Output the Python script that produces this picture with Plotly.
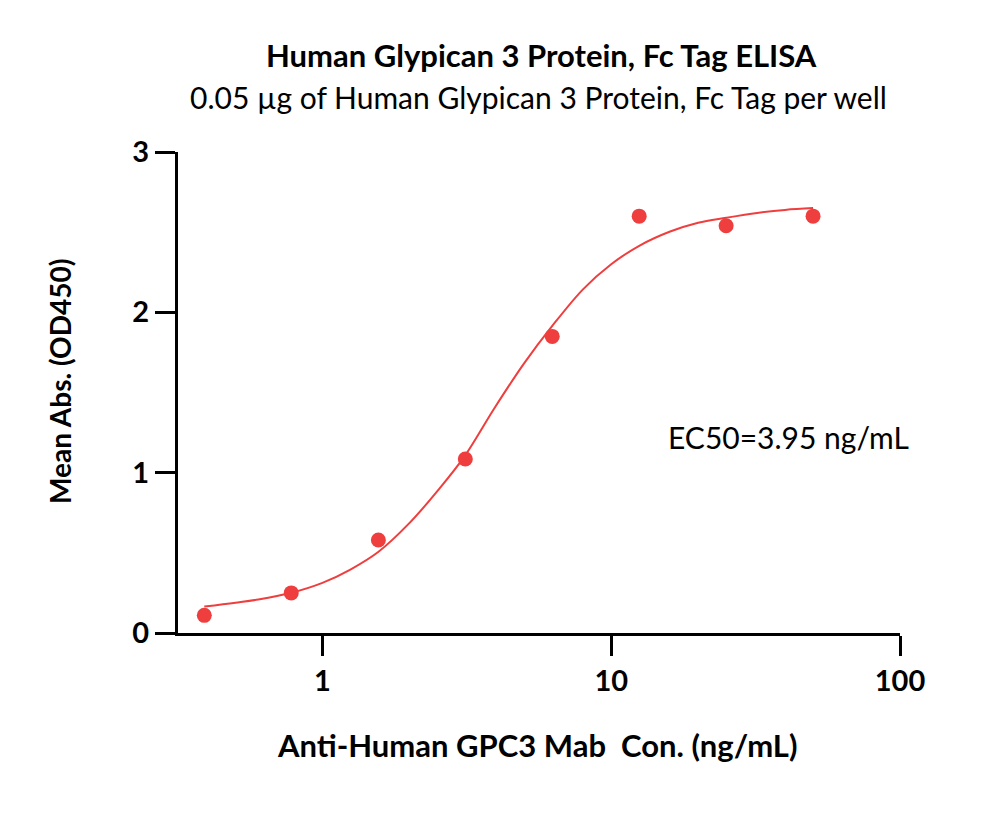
import plotly.graph_objects as go

# Measured data points
conc = [0.39, 0.78, 1.5625, 3.125, 6.25, 12.5, 25, 50]
od450 = [0.11, 0.25, 0.58, 1.085, 1.85, 2.60, 2.54, 2.60]

# Fitted curve
curve_x = [0.39, 0.5, 0.6, 0.78, 1.0, 1.25, 1.56, 2.0, 2.5, 3.1, 3.95, 5.0,
           6.25, 8.0, 10, 12.5, 16, 20, 25, 32, 40, 50]
curve_y = [0.165, 0.189, 0.209, 0.251, 0.313, 0.396, 0.505, 0.685, 0.885, 1.10,
           1.405, 1.683, 1.915, 2.145, 2.30, 2.415, 2.504, 2.559, 2.59, 2.62,
           2.639, 2.65]

x_ticks = [1, 10, 100]
x_tick_text = ["1", "10", "100"]
y_ticks = [0, 1, 2, 3]

RED = "#EF3E3E"
FONT = "Lato"

fig = go.Figure()
fig.add_trace(go.Scatter(x=curve_x, y=curve_y, mode="lines",
                         line=dict(color=RED, width=2, shape="spline"),
                         hoverinfo="skip", showlegend=False))
fig.add_trace(go.Scatter(x=conc, y=od450, mode="markers",
                         marker=dict(color=RED, size=15, line=dict(width=0)),
                         showlegend=False))

axis_common = dict(showline=True, linecolor="black", linewidth=3,
                   ticks="outside", ticklen=20, tickwidth=3, tickcolor="black",
                   showgrid=False, zeroline=False,
                   tickfont=dict(family=FONT, size=29, color="black", weight="bold"))

fig.update_xaxes(type="log", range=[-0.5, 2.0], tickvals=x_ticks,
                 ticktext=x_tick_text, **axis_common)
fig.update_yaxes(range=[0, 3], tickvals=y_ticks, **axis_common)

fig.update_layout(
    width=1000, height=839,
    margin=dict(l=178, r=100, t=152, b=206),
    paper_bgcolor="white", plot_bgcolor="white",
    annotations=[
        dict(text="<b>Human Glypican 3 Protein, Fc Tag ELISA</b>", xref="paper", yref="paper",
             x=(541 - 178) / 722, y=1 + 97 / 481, xanchor="center", yanchor="middle", showarrow=False,
             font=dict(family=FONT, size=31, color="black")),
        dict(text="0.05 µg of Human Glypican 3 Protein, Fc Tag per well", xref="paper", yref="paper",
             x=(538 - 178) / 722, y=1 + 55 / 481, xanchor="center", yanchor="middle", showarrow=False,
             font=dict(family=FONT, size=30, color="black")),
        dict(text="<b>Anti-Human GPC3 Mab  Con. (ng/mL)</b>", xref="paper", yref="paper",
             x=(537 - 178) / 722, y=-(745 - 633) / 481, xanchor="center", yanchor="middle",
             showarrow=False, font=dict(family=FONT, size=31, color="black")),
        dict(text="<b>Mean Abs. (OD450)</b>", xref="paper", yref="paper",
             x=(60 - 178) / 722, y=(633 - 382) / 481, xanchor="center", yanchor="middle",
             textangle=-90, showarrow=False, font=dict(family=FONT, size=28, color="black")),
        dict(text="EC50=3.95 ng/mL", xref="paper", yref="paper",
             x=(788 - 178) / 722, y=(633 - 437) / 481, xanchor="center", yanchor="middle",
             showarrow=False, font=dict(family=FONT, size=30, color="black")),
    ],
)

fig.write_html("out.html")
